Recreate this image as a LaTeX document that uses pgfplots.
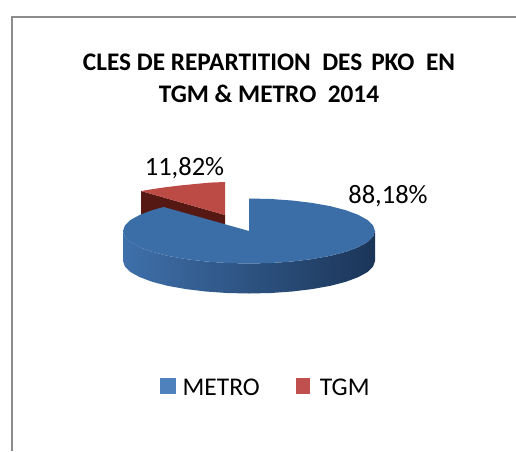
\documentclass[border=0pt]{standalone}
\usepackage{pgfplots}
\pgfplotsset{compat=1.18}
\usepackage{fontspec}
\setmainfont{Carlito}
\definecolor{metroTop}{HTML}{3B6DA7}
\definecolor{metroL}{HTML}{3F70AA}
\definecolor{metroM}{HTML}{2C5688}
\definecolor{metroR}{HTML}{1B3558}
\definecolor{metroLeg}{HTML}{4F81BD}
\definecolor{tgmTop}{HTML}{BC4A45}
\definecolor{tgmDark}{HTML}{561812}
\definecolor{tgmLeg}{HTML}{C0504D}
\definecolor{frameGray}{HTML}{8C8C8C}
\begin{document}
\begin{tikzpicture}
\begin{axis}[
  scale only axis, width=516pt, height=451pt,
  xmin=0, xmax=516, ymin=0, ymax=451, y dir=reverse,
  axis lines=none, clip=true,
  legend style={at={(axis cs:266,388)}, anchor=center, draw=none, fill=none,
    legend columns=2, font=\fontsize{25.5}{28}\selectfont,
    /tikz/every even column/.append style={column sep=34pt}},
]
% page extent
\path (axis cs:0,0) rectangle (axis cs:516,451);
% frame
\addplot[frameGray, line width=1.5pt, forget plot] coordinates {(12,451)(12,17)(516,17)};
% TGM slice: inner dark face
\addplot[draw=none, fill=tgmDark, forget plot] coordinates {(141,191)(225,215)(225,245)(141,222)} --cycle;
% TGM slice: top face
\addplot[draw=none, fill=tgmTop, forget plot] coordinates {(225,215)(225,182)(210,182.6)(195,184)(180,185.5)(165,187.3)(150,189.5)(141,191)} --cycle;
% METRO side wall
\addplot[draw=none, left color=metroL, middle color=metroM, right color=metroR, forget plot] coordinates {
 (123,231)(124.9,236.6)(130.6,242.1)(139.9,247.2)(152.5,251.9)(168,255.9)(186,259.1)(205.9,261.5)(227.1,263)(249,263.5)(270.9,263)(292.1,261.5)(312,259.1)(330,255.9)(345.5,251.9)(358.1,247.2)(367.4,242.1)(373.1,236.6)(375,231)
 (375,261)(373.1,266.6)(367.4,272.1)(358.1,277.2)(345.5,281.9)(330,285.9)(312,289.1)(292.1,291.5)(270.9,293)(249,293.5)(227.1,293)(205.9,291.5)(186,289.1)(168,285.9)(152.5,281.9)(139.9,277.2)(130.6,272.1)(124.9,266.6)(123,261)
} --cycle;
% METRO top face
\addplot[draw=none, fill=metroTop, forget plot] coordinates {
 (249,231)(163.7,207)(152.5,210.1)(139.9,214.8)(130.6,219.9)(124.9,225.4)(123,231)(124.9,236.6)(130.6,242.1)(139.9,247.2)(152.5,251.9)(168,255.9)(186,259.1)(205.9,261.5)(227.1,263)(249,263.5)(270.9,263)(292.1,261.5)(312,259.1)(330,255.9)(345.5,251.9)(358.1,247.2)(367.4,242.1)(373.1,236.6)(375,231)(373.1,225.4)(367.4,219.9)(358.1,214.8)(345.5,210.1)(330,206.1)(312,202.9)(292.1,200.5)(270.9,199)(249,198.5)
} --cycle;
\addlegendimage{legend image code/.code={\path[draw=none, fill=metroLeg] (0pt,-6pt) rectangle (16pt,10pt); \path (20pt,0pt);}}
\addlegendentry{METRO}
\addlegendimage{legend image code/.code={\path[draw=none, fill=tgmLeg] (0pt,-6pt) rectangle (14pt,10pt); \path (22pt,0pt);}}
\addlegendentry{TGM}
\node[align=center, font=\fontsize{25.3}{32}\selectfont\bfseries] at (axis cs:269,78) {CLES DE REPARTITION\ \ DES\hspace{9pt}PKO\ \ EN\\TGM \& METRO\ \ 2014};
\node[font=\fontsize{26.5}{28}\selectfont] at (axis cs:388,196) {88,18\%};
\node[font=\fontsize{26.5}{28}\selectfont] at (axis cs:184.5,168) {11,82\%};
\end{axis}
\end{tikzpicture}
\end{document}
